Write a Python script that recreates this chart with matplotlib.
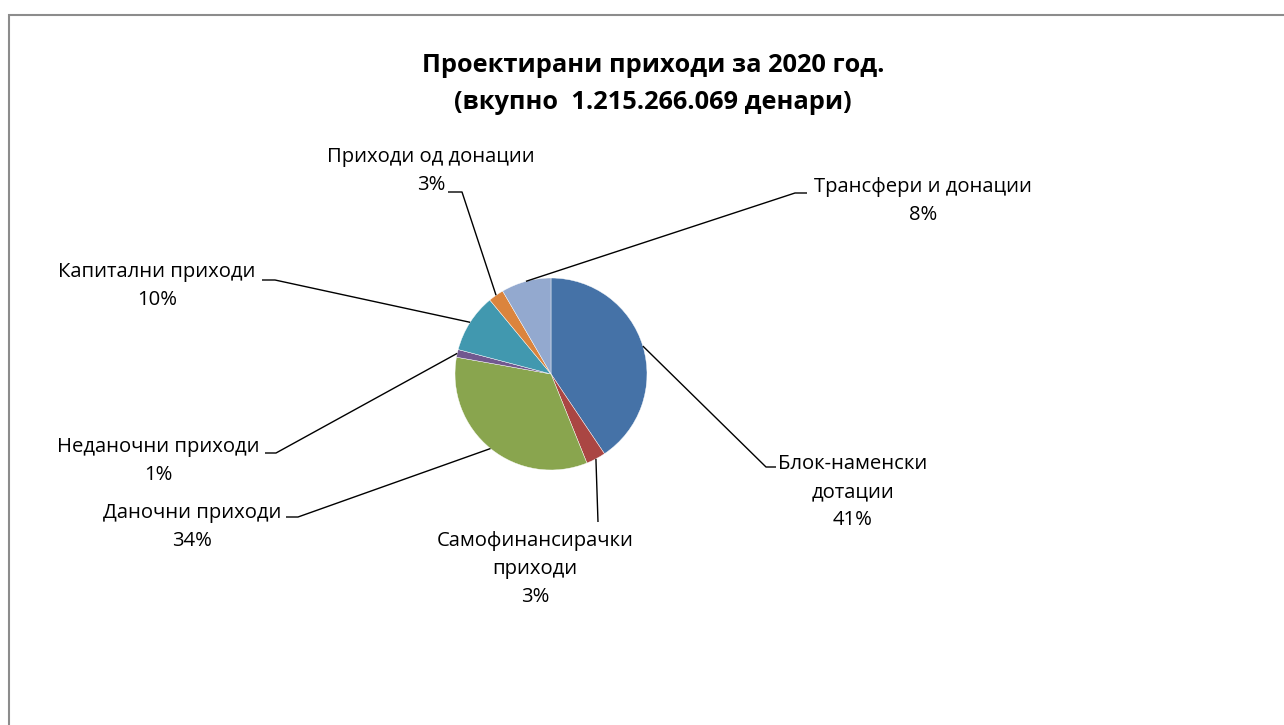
import numpy as np
import matplotlib.pyplot as plt
from matplotlib.patches import Rectangle

plt.rcParams["font.family"] = ["Open Sans", "DejaVu Sans"]

# data (shares, in percent)
categories = ["Блок-наменски\nдотации", "Самофинансирачки\nприходи", "Даночни приходи",
              "Неданочни приходи", "Капитални приходи", "Приходи од донации",
              "Трансфери и донации"]
shares = [40.6, 3.3, 33.9, 1.3, 9.9, 2.6, 8.4]
colors = ["#4572A7", "#AA4643", "#89A54E", "#71588F", "#4198AF", "#DB843D", "#93A9CF"]

title = "Проектирани приходи за 2020 год.\n(вкупно  1.215.266.069 денари)"

W, H = 1284, 725

def py(y):
    # pixel row (from top) -> axes y
    return H - y

# label layout in pixels: text centre, elbow of leader, end of leader
label_pos = [(853, 492), (535, 569), (192, 527), (158, 461), (157, 286), (431, 171), (923, 201)]
elbows = [(766, 467), (598, 522), (298, 517), (276, 453), (275, 280), (462, 192), (795, 193)]
ends = [(776, 467), (598, 522), (286, 517), (265, 453), (262, 280), (448, 192), (807, 193)]

fig = plt.figure(figsize=(W / 100, H / 100), dpi=100)
ax = fig.add_axes([0, 0, 1, 1])

cx, cy, r = 551, py(374), 96
wedges, _ = ax.pie(shares, colors=colors, startangle=90, counterclock=False,
                   center=(cx, cy), radius=r, frame=True,
                   wedgeprops=dict(edgecolor="white", linewidth=0.3))

ax.set_xlim(0, W)
ax.set_ylim(0, H)
ax.set_aspect("equal")
ax.axis("off")

total = sum(shares)
for w, cat, val, (tx, ty), (ex, ey), (nx, ny) in zip(wedges, categories, shares,
                                                      label_pos, elbows, ends):
    mid = np.deg2rad((w.theta1 + w.theta2) / 2)
    sx, sy = cx + r * np.cos(mid), cy + r * np.sin(mid)
    ax.plot([sx, ex, nx], [sy, py(ey), py(ny)], color="black", lw=1.0,
            solid_capstyle="butt")
    pct = round(val / total * 100)
    ax.text(tx, py(ty), f"{cat}\n{pct}%", ha="center", va="center",
            fontsize=14.6, linespacing=1.52, color="black")

ax.text(653, py(84), title, ha="center", va="center", fontsize=18.3,
        fontweight="bold", linespacing=1.58)

# chart frame
ax.add_patch(Rectangle((8.5, -20), W + 20, py(15) + 20, fill=False,
                       edgecolor="#8c8c8c", lw=1.5, clip_on=False))

fig.savefig("out.png", dpi=100)
